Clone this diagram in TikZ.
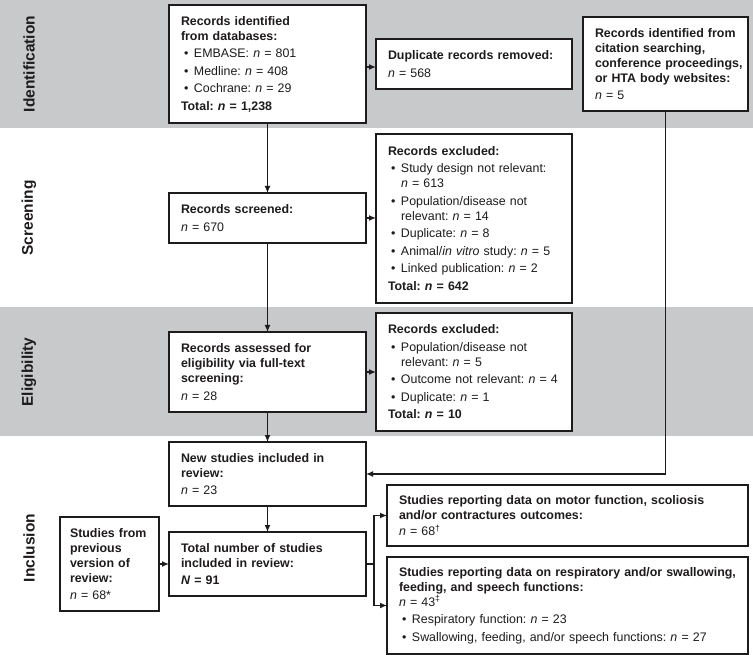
\documentclass[tikz,border=0pt]{standalone}
\usepackage{fontspec}
\setmainfont{Liberation Sans}
\usetikzlibrary{arrows.meta,calc}
\definecolor{band}{HTML}{C8C9CB}
\definecolor{ink}{HTML}{1E1B1C}
\newcommand\bu{\makebox[13pt][l]{\hspace{3pt}•}}
\newcommand\ind{\hspace*{13pt}}
\frenchspacing
\tikzset{
 box/.style={draw=ink, line width=1.5pt, fill=white, anchor=north west, inner xsep=12pt, inner ysep=0pt, outer sep=0pt, align=left, font=\fontsize{12.4}{15}\selectfont\frenchspacing, text=ink},
 phase/.style={rotate=90, font=\fontsize{15.5}{18}\selectfont\bfseries, text=ink},
 arr/.style={draw=ink, line width=1.3pt, -{Latex[length=7pt,width=6pt]}},
 ln/.style={draw=ink, line width=1.3pt},
}
\begin{document}
\begin{tikzpicture}[x=1pt,y=-1pt]
\useasboundingbox (0,0) rectangle (753,655);
\fill[band] (0,0) rectangle (753,128);
\fill[band] (0,307) rectangle (753,436);
\node[phase] (p1) at (29,64) {Identification};
\node[phase] (p2) at (29,218) {Screening};
\node[phase] (p3) at (29,372) {Eligibility};
\node[phase] (p4) at (29,548) {Inclusion};

\node[box, minimum width=197pt, minimum height=118pt, text width=173pt] (ident) at (169,5)
 {\textbf{Records identified\\from databases:}\\[2.5pt]\bu EMBASE: \textit{n} = 801\\[2.5pt]\bu Medline: \textit{n} = 408\\[2.5pt]\bu Cochrane: \textit{n} = 29\\[2.5pt]\textbf{Total: \textit{n} = 1,238}};
\node[box, minimum width=196pt, minimum height=50pt, text width=172pt] (dup) at (376,39)
 {\textbf{Duplicate records removed:}\\[2.5pt]\textit{n} = 568};
\node[box, inner xsep=4pt, minimum width=165pt, minimum height=94pt, text width=157pt, execute at begin node={\leftskip=8pt\relax}] (cite) at (583,17)
 {\textbf{Records identified from\\citation searching,\\conference proceedings,\\or HTA body websites:}\\[2.5pt]\textit{n} = 5};
\node[box, minimum width=197pt, minimum height=50pt, text width=173pt] (screen) at (169,193)
 {\textbf{Records screened:}\\[2.5pt]\textit{n} = 670};
\node[box, minimum width=196pt, minimum height=169pt, text width=172pt] (excl1) at (376,134)
 {\textbf{Records excluded:}\\[2.5pt]\bu Study design not relevant:\\\ind\textit{n} = 613\\[2.5pt]\bu Population/disease not\\\ind relevant: \textit{n} = 14\\[2.5pt]\bu Duplicate: \textit{n} = 8\\[2.5pt]\bu Animal/\textit{in vitro} study: \textit{n} = 5\\[2.5pt]\bu Linked publication: \textit{n} = 2\\[2.5pt]\textbf{Total: \textit{n} = 642}};
\node[box, minimum width=197pt, minimum height=80pt, text width=173pt] (assess) at (169,332)
 {\textbf{Records assessed for\\eligibility via full-text\\screening:}\\[2.5pt]\textit{n} = 28};
\node[box, minimum width=196pt, minimum height=118pt, text width=172pt] (excl2) at (376,313)
 {\textbf{Records excluded:}\\[2.5pt]\bu Population/disease not\\\ind relevant: \textit{n} = 5\\[2.5pt]\bu Outcome not relevant: \textit{n} = 4\\[2.5pt]\bu Duplicate: \textit{n} = 1\\[2.5pt]\textbf{Total: \textit{n} = 10}};
\node[box, minimum width=197pt, minimum height=64pt, text width=173pt] (new) at (169,442)
 {\textbf{New studies included in\\review:}\\[2.5pt]\textit{n} = 23};
\node[box, minimum width=197pt, minimum height=64pt, text width=173pt] (total) at (169,532)
 {\textbf{Total number of studies\\included in review:}\\[2.5pt]\textbf{\textit{N} = 91}};
\node[box, inner xsep=10pt, minimum width=99pt, minimum height=94pt, text width=79pt] (prev) at (60,517)
 {\textbf{Studies from\\previous\\version of\\review:}\\[2.5pt]\textit{n} = 68*};
\node[box, minimum width=361pt, minimum height=61pt, text width=337pt] (motor) at (387,485)
 {\textbf{Studies reporting data on motor function, scoliosis\\and/or contractures outcomes:}\\[1pt]\textit{n} = 68\textsuperscript{†}};
\node[box, minimum width=361pt, minimum height=97pt, text width=337pt] (resp) at (387,557)
 {\textbf{Studies reporting data on respiratory and/or swallowing,\\feeding, and speech functions:}\\\textit{n} = 43\textsuperscript{‡}\\[2.5pt]\bu Respiratory function: \textit{n} = 23\\[2.5pt]\bu Swallowing, feeding, and/or speech functions: \textit{n} = 27};

\draw[arr] ([yshift=-3pt]ident.east |- dup.west) -- ([yshift=-3pt]dup.west);
\draw[arr] (ident.south) -- (screen.north);
\draw[arr] (screen.east) -- (screen.east -| excl1.west);
\draw[arr] (screen.south) -- (assess.north);
\draw[arr] (assess.east) -- (assess.east -| excl2.west);
\draw[arr] (assess.south) -- (new.north);
\draw[arr] (cite.south) |- (new.east);
\draw[arr] (new.south) -- (total.north);
\draw[arr] (prev.east) -- (prev.east -| total.west);
\coordinate (split) at ($(total.east)+(8pt,0)$);
\draw[ln] (total.east) -- (split);
\draw[arr] (split) |- (motor.west);
\draw[arr] (split) |- (resp.west);
\end{tikzpicture}
\end{document}
